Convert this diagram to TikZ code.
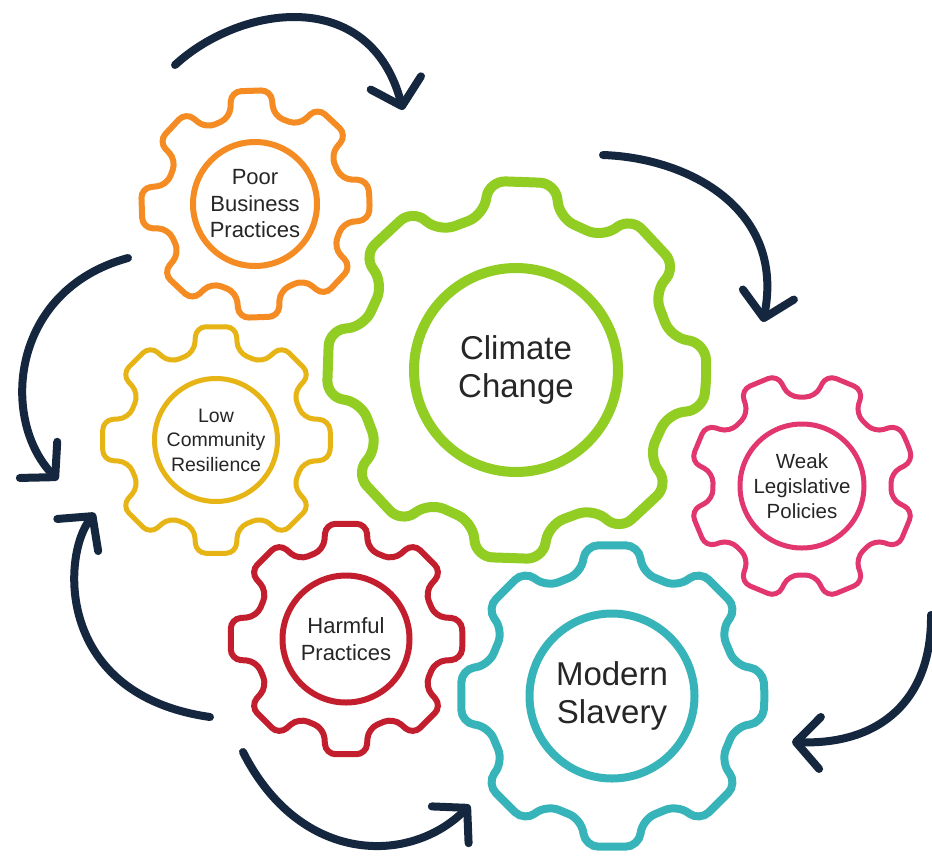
\documentclass[tikz,border=0pt]{standalone}
\usepackage{fontspec}
\setmainfont{Liberation Sans}
\usetikzlibrary{arrows.meta}

\definecolor{cogorange}{HTML}{F58C23}
\definecolor{coggreen}{HTML}{91CD23}
\definecolor{coggold}{HTML}{E6B414}
\definecolor{cogpink}{HTML}{E1376E}
\definecolor{cogred}{HTML}{C31E2D}
\definecolor{cogteal}{HTML}{37B4B9}
\definecolor{cyclenavy}{HTML}{15263F}

% gear outline round a hub node: centre, root radius, tip radius, turn, style
\newcommand{\cog}[5]{%
  \begin{scope}[shift={(#1)}, rotate=#4]
    \draw[#5] (0:#3pt)
      \foreach \k in {0,...,7}{
        -- ({45*\k+10}:#3pt) -- ({45*\k+14}:#2pt)
        -- ({45*\k+31}:#2pt) -- ({45*\k+35}:#3pt)
      } -- cycle;
  \end{scope}}

\begin{document}
\begin{tikzpicture}[
  x=1pt, y=-1pt,
  hub/.style={circle, draw, align=center, inner sep=0pt, text=black!85},
  small/.style={font=\fontsize{22}{26.5}\selectfont},
  smaller/.style={font=\fontsize{19.5}{24.5}\selectfont},
  large/.style={font=\fontsize{33}{38}\selectfont},
  cycle arrow/.style={cyclenavy, line width=8pt, line cap=round,
    -{Straight Barb[length=24pt, width=52pt, round]}}
  ]

\path[use as bounding box, fill=white] (0,0) rectangle (932,855);

\node[hub, small, draw=cogorange, line width=6pt, minimum size=124pt] (poor) at (255,204) {Poor\\Business\\Practices};
\node[hub, large, draw=coggreen, line width=10pt, minimum size=204pt] (climate) at (516,370) {Climate\\Change};
\node[hub, smaller, draw=coggold, line width=5pt, minimum size=123pt] (community) at (216,440) {Low\\Community\\Resilience};
\node[hub, smaller, font=\fontsize{20.5}{25}\selectfont, draw=cogpink, line width=5pt, minimum size=124pt] (policies) at (802,486) {Weak\\Legislative\\Policies};
\node[hub, small, draw=cogred, line width=6pt, minimum size=127pt] (harmful) at (346,639) {Harmful\\Practices};
\node[hub, large, draw=cogteal, line width=8pt, minimum size=165pt] (slavery) at (612,696) {Modern\\Slavery};

\cog{poor}{90}{115}{2}{cogorange, line width=6pt, rounded corners=10pt}
\cog{climate}{158}{191}{-2}{coggreen, line width=10pt, rounded corners=16pt}
\cog{community}{90}{115}{0}{coggold, line width=5pt, rounded corners=10pt}
\cog{policies}{90}{114}{22.5}{cogpink, line width=5pt, rounded corners=10pt}
\cog{harmful}{92}{117}{0}{cogred, line width=6pt, rounded corners=10pt}
\cog{slavery}{127}{153}{0}{cogteal, line width=8pt, rounded corners=13pt}

\coordinate (arc1s) at (175,65);
\coordinate (arc1e) at (403,110);
\coordinate (arc2s) at (603,155);
\coordinate (arc2e) at (763,322);
\coordinate (arc3s) at (931,615);
\coordinate (arc3e) at (792,742);
\coordinate (arc4s) at (128,258);
\coordinate (arc4e) at (58,480);
\coordinate (arc5s) at (210,717);
\coordinate (arc5e) at (95,513);
\coordinate (arc6s) at (243,752);
\coordinate (arc6e) at (470,805);

\draw[cycle arrow] (arc1s) .. controls (240,5) and (370,-15) .. (arc1e);
\draw[cycle arrow] (arc2s) .. controls (690,158) and (785,210) .. (arc2e);
\draw[cycle arrow] (arc3s) .. controls (932,700) and (880,745) .. (arc3e);
\draw[cycle arrow] (arc4s) .. controls (10,290) and (0,420) .. (arc4e);
\draw[cycle arrow] (arc5s) .. controls (55,695) and (62,555) .. (arc5e);
\draw[cycle arrow] (arc6s) .. controls (300,865) and (410,865) .. (arc6e);

\end{tikzpicture}
\end{document}
